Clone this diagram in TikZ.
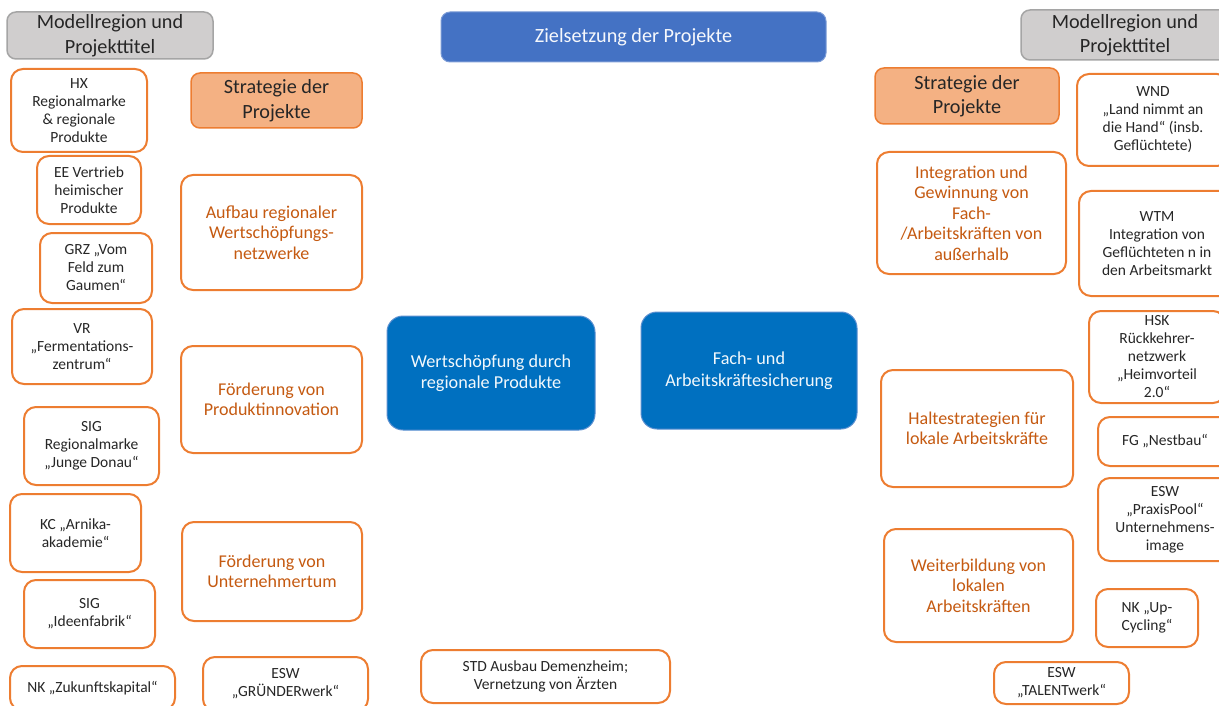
\documentclass[tikz,border=0pt]{standalone}
\usepackage{fontspec}
\setmainfont{Carlito}
\definecolor{orB}{HTML}{ED7D31}
\definecolor{orT}{HTML}{C55A11}
\definecolor{orF}{HTML}{F4B183}
\definecolor{grF}{HTML}{D0CECE}
\definecolor{grB}{HTML}{A5A5A5}
\definecolor{bl1}{HTML}{4472C4}
\definecolor{bl2}{HTML}{0070C0}
\definecolor{bl2B}{HTML}{5B8FD0}
\definecolor{txt}{HTML}{262626}
\newcommand\fsz[2]{\fontsize{#1}{#2}\selectfont}
\tikzset{
  base/.style={rounded corners=12pt, align=center, inner sep=0pt},
  proj/.style={base, draw=orB, line width=2pt, fill=white, text=txt, font=\fsz{15.5}{18}},
  strat/.style={base, draw=orB, line width=2pt, fill=white, text=orT, font=\fsz{18}{20.5}},
  stratH/.style={base, rounded corners=9pt, draw=orB, line width=1.5pt, fill=orF, text=txt, font=\fsz{20.2}{24.5}},
  hdr/.style={base, rounded corners=9pt, draw=grB, line width=1.5pt, fill=grF, text=txt, font=\fsz{20.2}{24.5}},
  goal/.style={base, rounded corners=9pt, draw=bl1!70!white, line width=1pt, fill=bl1, text=white!95!bl1, font=\fsz{20.2}{22}},
  core/.style={base, rounded corners=16pt, draw=bl2B, line width=1pt, fill=bl2, text=white!95!bl2, font=\fsz{18.2}{21.5}},
  wh/.style 2 args={minimum width=#1pt, minimum height=#2pt},
}
\begin{document}
\begin{tikzpicture}[x=1pt,y=-1pt]
\useasboundingbox (0,0) rectangle (1219,706);
\clip (0,0) rectangle (1219,706);
% headers
\node[hdr, wh={206}{47}] (hdrL) at (110,35.5) {Modellregion und\\Projekttitel};
\node[hdr, wh={208}{50}] (hdrR) at (1125,35) {Modellregion und\\Projekttitel};
\node[goal, wh={385}{50}] (ziel) at (633.5,37) {Zielsetzung der Projekte};
\node[stratH, wh={171}{55}] (stratL) at (276.5,100.5) {Strategie der\\Projekte};
\node[stratH, wh={184}{56}] (stratR) at (967,96) {Strategie der\\Projekte};
% core goals
\node[core, wh={208}{114}] (wert) at (491,373) {Wertschöpfung durch\\regionale Produkte};
\node[core, wh={216}{117}] (fach) at (749,370.5) {Fach- und\\Arbeitskräftesicherung};
% left strategies
\node[strat, wh={181}{115}] (aufbau) at (271.5,232.5) {Aufbau regionaler\\Wertschöpfungs-\\netzwerke};
\node[strat, wh={181}{107}] (fprod) at (271.5,399.5) {Förderung von\\Produktinnovation};
\node[strat, wh={180}{99}] (funt) at (272,571.5) {Förderung von\\Unternehmertum};
% right strategies
\node[strat, wh={189}{122}] (integ) at (971.5,213) {Integration und\\Gewinnung von\\Fach-\\/Arbeitskräften von\\außerhalb};
\node[strat, wh={192}{117}] (halt) at (977,428.5) {Haltestrategien für\\lokale Arbeitskräfte};
\node[strat, wh={189}{113}] (weiter) at (978.5,585.5) {Weiterbildung von\\lokalen\\Arbeitskräften};
% left projects
\node[proj, wh={136}{83}] (hx) at (79,110.5) {HX\\Regionalmarke\\\& regionale\\Produkte};
\node[proj, wh={104}{68}] (ee) at (89,190) {EE Vertrieb\\heimischer\\Produkte};
\node[proj, wh={112}{70}] (grz) at (96,268) {GRZ „Vom\\Feld zum\\Gaumen“};
\node[proj, wh={140}{75}] (vr) at (82,346.5) {VR\\„Fermentations-\\zentrum“};
\node[proj, wh={135}{78}] (sigR) at (91.5,446) {SIG\\Regionalmarke\\„Junge Donau“};
\node[proj, wh={131}{78}] (kc) at (75.5,533) {KC „Arnika-\\akademie“};
\node[proj, wh={131}{68}] (sigI) at (89.5,614) {SIG\\„Ideenfabrik“};
\node[proj, wh={165}{44}] (nkz) at (92.5,688) {NK „Zukunftskapital“};
\node[proj, wh={165}{54}] (esg) at (285.5,684) {ESW\\„GRÜNDERwerk“};
\node[proj, wh={249}{53}] (std) at (545.5,676.5) {STD Ausbau Demenzheim;\\Vernetzung von Ärzten};
% right projects
\node[proj, wh={152}{92}] (wnd) at (1153,120) {WND\\„Land nimmt an\\die Hand“ (insb.\\Geflüchtete)};
\node[proj, wh={156}{105}] (wtm) at (1157,243.5) {WTM\\Integration von\\Geflüchteten n in\\den Arbeitsmarkt};
\node[proj, wh={136}{92}] (hsk) at (1157,357) {HSK\\Rückkehrer-\\netzwerk\\„Heimvorteil\\2.0“};
\node[proj, wh={134}{49}] (fg) at (1165,441.5) {FG „Nestbau“};
\node[proj, wh={134}{83}] (praxis) at (1165,519.5) {ESW\\„PraxisPool“\\Unternehmens-\\image};
\node[proj, wh={102}{58}] (nkup) at (1147,618) {NK „Up-\\Cycling“};
\node[proj, wh={135}{42}] (talent) at (1061.5,683) {ESW\\„TALENTwerk“};
\end{tikzpicture}
\end{document}
